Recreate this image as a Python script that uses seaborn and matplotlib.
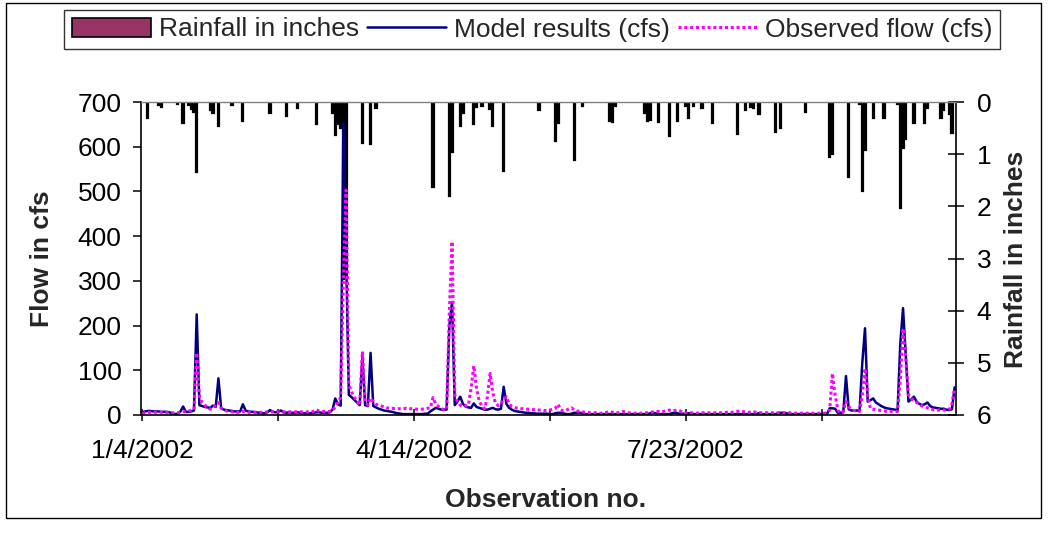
import numpy as np
import pandas as pd
import matplotlib
matplotlib.use("Agg")
import matplotlib.pyplot as plt
from matplotlib.patches import Patch, Rectangle
from matplotlib.lines import Line2D
import seaborn as sns

# Daily flow series, 300 observations starting 1/4/2002
model_cfs = [
    6, 8, 9, 9, 8, 8, 8, 7, 7, 7, 6, 3, 2, 3, 8, 19, 7, 7, 8, 10,
    225, 22, 20, 18, 17, 16, 21, 18, 82, 15, 12, 11, 10, 9, 8, 8, 8, 24, 10, 8,
    7, 7, 6, 5, 4, 4, 6, 11, 7, 6, 7, 10, 6, 5, 6, 5, 5, 6, 5, 4,
    4, 3, 4, 5, 6, 6, 5, 5, 5, 6, 12, 37, 24, 21, 653, 360, 45, 40, 34, 28,
    22, 131, 22, 20, 139, 20, 17, 14, 12, 10, 9, 8, 7, 5, 4, 3, 2, 2, 2, 2,
    2, 2, 2, 2, 3, 3, 8, 12, 16, 14, 12, 12, 12, 200, 252, 22, 30, 41, 25, 19,
    17, 16, 26, 18, 16, 14, 12, 12, 14, 16, 13, 12, 14, 63, 25, 16, 12, 9, 8, 7,
    6, 5, 5, 4, 4, 3, 3, 3, 3, 3, 2, 2, 4, 5, 5, 4, 2, 2, 3, 5,
    5, 5, 4, 2, 2, 2, 2, 2, 2, 2, 2, 2, 2, 2, 2, 2, 2, 2, 2, 2,
    2, 2, 2, 2, 2, 2, 2, 4, 5, 4, 2, 2, 2, 2, 2, 4, 5, 4, 2, 3,
    2, 4, 3, 2, 2, 2, 2, 2, 2, 2, 2, 2, 2, 2, 2, 2, 2, 2, 2, 2,
    2, 2, 2, 2, 2, 2, 2, 4, 2, 2, 2, 2, 2, 2, 4, 5, 5, 4, 2, 2,
    2, 2, 2, 2, 2, 2, 2, 2, 2, 2, 2, 2, 2, 15, 15, 14, 5, 5, 6, 87,
    13, 10, 10, 10, 10, 116, 194, 30, 33, 37, 28, 24, 20, 17, 15, 14, 13, 12, 11, 160,
    239, 135, 30, 35, 41, 30, 25, 22, 24, 28, 20, 17, 16, 15, 14, 14, 12, 11, 13, 62,
]

observed_cfs = [
    3, 5, 6, 6, 6, 6, 6, 6, 6, 6, 5, 5, 5, 5, 6, 7, 8, 9, 10, 12,
    139, 40, 28, 22, 16, 13, 15, 22, 28, 15, 11, 9, 8, 7, 7, 6, 6, 8, 7, 6,
    6, 6, 6, 6, 6, 6, 7, 7, 7, 7, 7, 7, 7, 7, 7, 7, 7, 7, 7, 7,
    7, 7, 7, 8, 12, 9, 8, 8, 8, 8, 10, 18, 28, 40, 300, 503, 67, 52, 40, 30,
    22, 142, 30, 22, 38, 30, 24, 22, 20, 18, 16, 15, 15, 14, 14, 14, 14, 15, 14, 14,
    14, 13, 13, 13, 14, 15, 16, 39, 24, 19, 15, 12, 13, 230, 388, 45, 30, 22, 19, 20,
    22, 60, 110, 60, 31, 20, 14, 40, 93, 50, 26, 21, 25, 35, 41, 25, 19, 17, 15, 14,
    14, 13, 13, 12, 12, 12, 11, 11, 10, 10, 11, 13, 15, 24, 12, 9, 10, 14, 16, 11,
    9, 8, 7, 6, 6, 5, 5, 5, 4, 4, 5, 6, 8, 6, 5, 5, 6, 8, 6, 5,
    4, 4, 4, 4, 4, 5, 5, 6, 7, 8, 8, 7, 8, 10, 11, 9, 10, 11, 9, 5,
    4, 5, 5, 4, 4, 5, 5, 5, 5, 5, 5, 5, 5, 5, 5, 6, 6, 6, 7, 8,
    9, 8, 6, 6, 6, 7, 6, 5, 5, 5, 5, 5, 5, 5, 5, 5, 5, 5, 5, 5,
    4, 4, 4, 4, 4, 4, 4, 4, 4, 4, 4, 4, 5, 11, 93, 45, 11, 4, 8, 30,
    18, 14, 10, 8, 8, 45, 104, 45, 14, 13, 12, 11, 10, 9, 8, 8, 8, 8, 8, 80,
    194, 127, 45, 38, 31, 28, 24, 20, 18, 16, 14, 12, 11, 11, 12, 11, 11, 12, 25, 60,
]

# Rainy days (observation index) and depth in inches
rain_obs = [2, 6, 7, 13, 15, 17, 18, 19, 20, 25, 26, 28, 33, 37, 47, 53, 57, 64,
            70, 71, 72, 73, 74, 75, 81, 84, 86, 107, 113, 114, 117, 118, 122, 123,
            125, 128, 129, 133, 146, 152, 153, 159, 162, 172, 173, 174, 185, 186,
            187, 190, 194, 197, 200, 201, 203, 206, 210, 219, 222, 224, 225, 227,
            233, 235, 244, 253, 254, 260, 264, 265, 266, 269, 273, 278, 279, 280,
            281, 284, 288, 289, 294, 295, 297, 298]
rain_in = [0.31, 0.06, 0.09, 0.04, 0.40, 0.05, 0.13, 0.20, 1.35, 0.16, 0.21, 0.46,
           0.05, 0.36, 0.22, 0.27, 0.12, 0.43, 0.22, 0.63, 0.43, 0.50, 3.40, 3.35,
           0.78, 0.81, 0.12, 1.62, 1.81, 0.95, 0.46, 0.22, 0.42, 0.10, 0.07, 0.14,
           0.46, 1.32, 0.15, 0.74, 0.41, 1.12, 0.07, 0.36, 0.39, 0.07, 0.22, 0.36,
           0.34, 0.39, 0.66, 0.36, 0.07, 0.31, 0.07, 0.12, 0.40, 0.61, 0.15, 0.10,
           0.11, 0.23, 0.57, 0.50, 0.20, 1.05, 1.00, 1.43, 0.03, 1.70, 0.92, 0.31,
           0.31, 0.03, 2.04, 0.89, 0.70, 0.40, 0.40, 0.12, 0.31, 0.15, 0.23, 0.59]

start_date = "2002-01-04"
flow_ticks = [0, 100, 200, 300, 400, 500, 600, 700]
rain_ticks = [0, 1, 2, 3, 4, 5, 6]

n_obs = len(model_cfs)
dates = pd.date_range(start_date, periods=n_obs, freq="D")
df = pd.DataFrame({"obs": np.arange(n_obs),
                   "model": model_cfs,
                   "observed": observed_cfs})
rain_df = pd.DataFrame({"obs": rain_obs, "rain": rain_in})

sns.set_style("white")
plt.rcParams["font.family"] = ["Liberation Sans", "DejaVu Sans"]

FS = 19
NAVY = "#000080"
MAGENTA = "#FF00FF"
MAROON = "#993366"

fig = plt.figure(figsize=(10.49, 5.46), dpi=100)
fig.patch.set_facecolor("white")
ax = fig.add_axes([141 / 1049, 1 - 415 / 546, (956 - 141) / 1049, (415 - 102) / 546])
ax2 = ax.twinx()

# rainfall bars hang from the top on the secondary (inverted) axis;
# the bars are so narrow that their black outline dominates
ax2.bar(rain_df["obs"], rain_df["rain"], width=0.45, color=MAROON,
        edgecolor="black", linewidth=1.6)
ax2.set_ylim(6, 0)
ax2.set_yticks(rain_ticks)

# flow lines drawn above the bars
ax.set_zorder(ax2.get_zorder() + 1)
ax.patch.set_visible(False)
sns.lineplot(data=df, x="obs", y="model", ax=ax, color=NAVY, linewidth=1.8)
sns.lineplot(data=df, x="obs", y="observed", ax=ax, color=MAGENTA,
             linewidth=2.2, linestyle=(0, (1.0, 0.9)))

ax.set_xlim(-0.5, n_obs - 0.5)
ax.set_ylim(0, 700)
ax.set_yticks(flow_ticks)
xt = list(range(0, n_obs, 50))
ax.set_xticks(xt)
ax.set_xticklabels([f"{dates[i].month}/{dates[i].day}/{dates[i].year}" if i % 100 == 0 else ""
                    for i in xt])
ax.set_xlabel("")
ax.set_ylabel("")
ax2.set_ylabel("")

for s in ["left", "bottom"]:
    ax.spines[s].set_color("black")
    ax.spines[s].set_linewidth(1.2)
ax.spines["top"].set_color("#808080")
ax.spines["top"].set_linewidth(1.0)
ax.spines["right"].set_visible(False)
for s in ["left", "top", "bottom"]:
    ax2.spines[s].set_visible(False)
ax2.spines["right"].set_color("black")
ax2.spines["right"].set_linewidth(1.2)

ax.tick_params(axis="y", direction="out", length=6, width=1.1, labelsize=FS,
               pad=8, colors="black", left=True)
ax.tick_params(axis="x", direction="inout", length=9, width=1.1, labelsize=FS,
               pad=13, colors="black", bottom=True)
ax2.tick_params(axis="y", direction="inout", length=12, width=1.1, labelsize=FS,
                pad=9, colors="black", right=True)

fig.text(42 / 1049, 1 - 259 / 546, "Flow in cfs", rotation=90, ha="center",
         va="center", fontsize=FS, fontweight="bold")
fig.text(1016 / 1049, 1 - 259 / 546, "Rainfall in inches", rotation=90,
         ha="center", va="center", fontsize=FS, fontweight="bold")
fig.text(546 / 1049, 1 - 500 / 546, "Observation no.", ha="center",
         va="center", fontsize=FS, fontweight="bold")

handles = [Patch(facecolor=MAROON, edgecolor="black", linewidth=1.2),
           Line2D([], [], color=NAVY, linewidth=1.8),
           Line2D([], [], color=MAGENTA, linewidth=2.2, linestyle=(0, (1.0, 0.9)))]
labels = ["Rainfall in inches", "Model results (cfs)", "Observed flow (cfs)"]
leg = fig.legend(handles, labels, loc="center", bbox_to_anchor=(532 / 1049, 1 - 29.5 / 546),
                 ncol=3, frameon=True, fancybox=False, edgecolor="black",
                 fontsize=FS, handlelength=3.0, handletextpad=0.3,
                 columnspacing=0.3, borderpad=0.3, borderaxespad=0)
leg.get_frame().set_linewidth(1.0)

# outer chart border
fig.add_artist(Rectangle((6 / 1049, 1 - 518 / 546), (1041 - 6) / 1049, (518 - 3) / 546,
                         transform=fig.transFigure, fill=False, edgecolor="black",
                         linewidth=1.0))

fig.savefig("out.png", dpi=100, facecolor="white")
